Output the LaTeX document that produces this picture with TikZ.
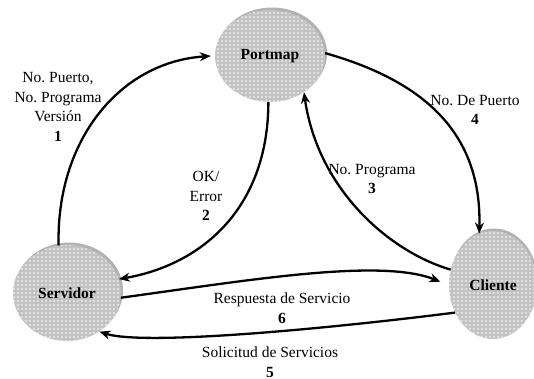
\documentclass[tikz,border=0pt]{standalone}
\usepackage{fontspec}
\setmainfont{Liberation Serif}
\usetikzlibrary{shapes.geometric,arrows.meta,patterns}
\pgfdeclarepatternformonly{whitedots}{\pgfqpoint{-1pt}{-1pt}}{\pgfqpoint{5pt}{5pt}}{\pgfqpoint{4pt}{4pt}}{%
  \pgfpathcircle{\pgfqpoint{2pt}{2pt}}{0.95pt}\pgfusepath{fill}}
\begin{document}
\frenchspacing
\begin{tikzpicture}[x=1pt,y=-1pt,
  state/.style={ellipse, inner sep=0pt, fill=black!24,
    postaction={pattern=whitedots, pattern color=white},
    font=\fontsize{15.5}{19}\selectfont\bfseries},
  rim/.style={ellipse, inner sep=0pt, fill=black!30, draw=none},
  link/.style={line width=2.3pt, -{Stealth[length=11pt,width=9pt]}},
  lbl/.style={align=center, inner sep=0pt, font=\fontsize{15.5}{19.5}\selectfont}]
\useasboundingbox (0,0) rectangle (534,379);
\begin{scope}
\clip (0,0) rectangle (534,379);
% shadows / rims
\node[rim, minimum width=110pt, minimum height=92pt, xshift=2pt, yshift=2.5pt] at (270,56) {};
\node[rim, minimum width=108pt, minimum height=96pt, xshift=2pt, yshift=2.5pt] at (67,293) {};
\node[rim, minimum width=88pt, minimum height=108pt, xshift=1pt, yshift=2.5pt] at (493,285) {};
% nodes
\node[state, minimum width=110pt, minimum height=92pt] (port) at (270,56) {Portmap};
\node[state, minimum width=108pt, minimum height=96pt] (serv) at (67,293) {Servidor};
\node[state, minimum width=88pt, minimum height=108pt] (cli) at (493,285) {Cliente};
\end{scope}
% connectors
\draw[link] (serv.100) .. controls (56,140) and (120,62) .. ([xshift=-4pt]port.180);
\draw[link] (port.268) .. controls (268,210) and (200,265) .. (serv.15);
\draw[link] (cli.160) .. controls (390,252) and (318,190) .. (port.-47);
\draw[link] (port.3) .. controls (420,80) and (482,130) .. (cli.105);
\draw[link] (cli.216) .. controls (300,332) and (140,345) .. (serv.-50);
\draw[link, shorten >=9pt] (serv.-5) .. controls (250,280) and (380,258) .. (cli.180);
% labels
\node[lbl] (l1) at (58,107) {No. Puerto,\\No. Programa\\Versión\\\textbf{1}};
\node[lbl] (l2) at (206,196) {OK/\\Error\\\textbf{2}};
\node[lbl] (l3) at (372,179) {No. Programa\\\textbf{3}};
\node[lbl] (l4) at (475,110) {No. De Puerto\\\textbf{4}};
\node[lbl] (l5) at (270,362) {Solicitud de Servicios\\\textbf{5}};
\node[lbl] (l6) at (282,308) {Respuesta de Servicio\\\textbf{6}};
\end{tikzpicture}
\end{document}
